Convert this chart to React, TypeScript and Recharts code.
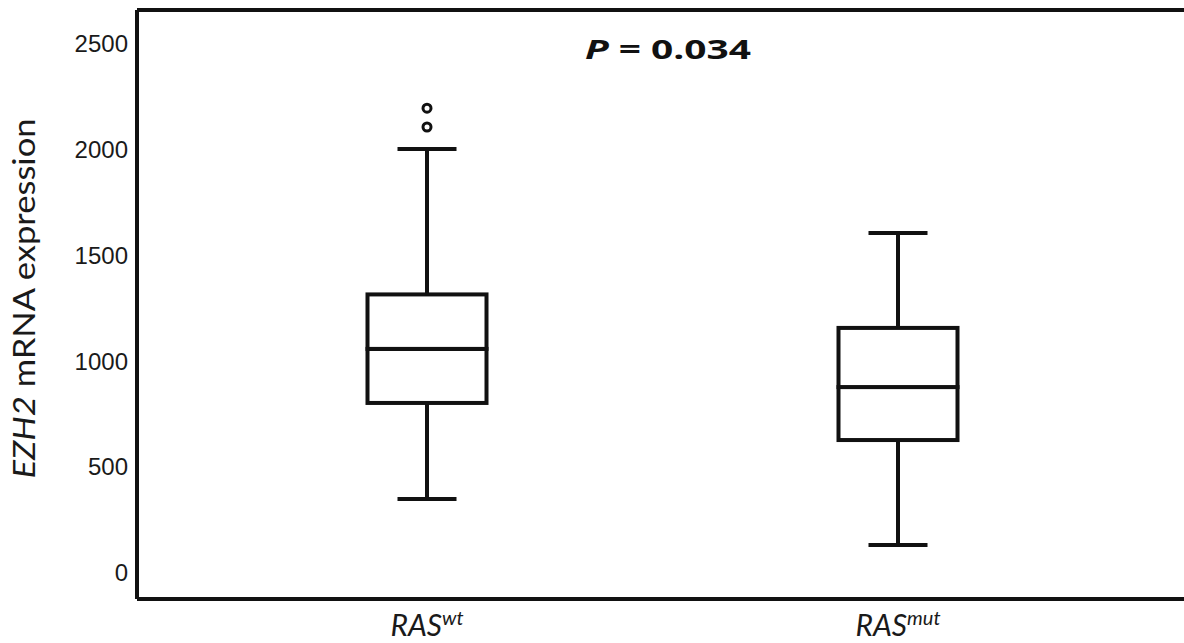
import { ComposedChart, Bar, Scatter, XAxis, YAxis, ReferenceLine } from "recharts";

const groups = ["wt", "mut"];
const mins = [349, 132];
const q1s = [802, 627];
const medians = [1057, 877];
const q3s = [1314, 1156];
const maxs = [2000, 1604];
// outliers per group (wt has two, mut none)
const outlierLow = [2104, null];
const outlierHigh = [2193, null];

const yTicks = [0, 500, 1000, 1500, 2000, 2500];
const yDomain = [-123, 2656];

const boxData = groups.map((g, i) => ({
  group: g,
  base: mins[i],
  lowWhisker: q1s[i] - mins[i],
  lowBox: medians[i] - q1s[i],
  highBox: q3s[i] - medians[i],
  highWhisker: maxs[i] - q3s[i],
  out1: outlierLow[i],
  out2: outlierHigh[i],
}));

const INK = "#111";
const LW = 4;
const CAP = 59;

const LowWhisker = (props: any) => {
  const { x, y, width, height } = props;
  const cx = x + width / 2;
  return (
    <g>
      <line x1={cx} x2={cx} y1={y} y2={y + height} stroke={INK} strokeWidth={LW} />
      <line x1={cx - CAP / 2} x2={cx + CAP / 2} y1={y + height} y2={y + height} stroke={INK} strokeWidth={LW} />
    </g>
  );
};

const HighWhisker = (props: any) => {
  const { x, y, width, height } = props;
  const cx = x + width / 2;
  return (
    <g>
      <line x1={cx} x2={cx} y1={y} y2={y + height} stroke={INK} strokeWidth={LW} />
      <line x1={cx - CAP / 2} x2={cx + CAP / 2} y1={y} y2={y} stroke={INK} strokeWidth={LW} />
    </g>
  );
};

const BoxPart = (props: any) => {
  const { x, y, width, height } = props;
  return <rect x={x} y={y} width={width} height={height} fill="#fff" stroke={INK} strokeWidth={LW} />;
};

const Outlier = (props: any) => {
  const { cx, cy, payload, field } = props;
  if (!payload || payload[field] == null || cy == null || isNaN(cy)) return <g />;
  return <circle cx={cx} cy={cy} r={4} fill="#fff" stroke={INK} strokeWidth={3} />;
};

const GroupTick = (props: any) => {
  const { x, y, payload } = props;
  return (
    <text x={x} y={y + 37} textAnchor="middle" fontFamily="Lato" fontStyle="italic" fontSize={30} fill="#1a1a1a">
      RAS
      <tspan fontSize={20} dy={-11}>
        {payload.value}
      </tspan>
    </text>
  );
};

const YLabel = (props: any) => {
  const { viewBox } = props;
  const x = 35;
  const cy = viewBox.y + viewBox.height / 2 - 6;
  return (
    <text
      x={x}
      y={cy}
      transform={`rotate(-90, ${x}, ${cy})`}
      textAnchor="middle"
      textLength={360}
      lengthAdjust="spacingAndGlyphs"
      fontFamily="Lato"
      fontSize={31}
      fill="#1a1a1a"
    >
      <tspan fontStyle="italic">EZH2</tspan> mRNA expression
    </text>
  );
};

const Title = () => (
  <text x={585} y={59} textLength={166} lengthAdjust="spacingAndGlyphs" fontFamily="Open Sans" fontWeight="bold" fontSize={26} fill="#111">
    <tspan fontStyle="italic">P</tspan> = 0.034
  </text>
);

export default function App() {
  return (
    <div style={{ position: "fixed", left: 0, top: 0, width: 1184, height: 643, overflow: "hidden", background: "#fff" }}>
      <ComposedChart width={1250} height={643} data={boxData} margin={{ top: 10, right: 0, left: 0, bottom: 0 }} barSize={119}>
        <XAxis
          dataKey="group"
          type="category"
          height={44}
          padding={{ left: 54.5, right: 116.5 }}
          axisLine={{ stroke: INK, strokeWidth: LW }}
          tickLine={false}
          tickSize={0}
          tickMargin={0}
          tick={<GroupTick />}
        />
        <YAxis
          type="number"
          domain={yDomain}
          ticks={yTicks}
          width={137}
          axisLine={{ stroke: INK, strokeWidth: LW }}
          tickLine={false}
          tickSize={0}
          tickMargin={9}
          tick={{ fontFamily: "Liberation Sans", fontSize: 24, fill: "#1a1a1a" }}
          allowDataOverflow
          label={<YLabel />}
        />
        <ReferenceLine y={yDomain[1]} stroke={INK} strokeWidth={LW} label={<Title />} />
        <Bar dataKey="base" stackId="box" fill="none" isAnimationActive={false} />
        <Bar dataKey="lowWhisker" stackId="box" shape={<LowWhisker />} isAnimationActive={false} />
        <Bar dataKey="lowBox" stackId="box" shape={<BoxPart />} isAnimationActive={false} />
        <Bar dataKey="highBox" stackId="box" shape={<BoxPart />} isAnimationActive={false} />
        <Bar dataKey="highWhisker" stackId="box" shape={<HighWhisker />} isAnimationActive={false} />
        <Scatter dataKey="out1" shape={<Outlier field="out1" />} isAnimationActive={false} />
        <Scatter dataKey="out2" shape={<Outlier field="out2" />} isAnimationActive={false} />
      </ComposedChart>
    </div>
  );
}
